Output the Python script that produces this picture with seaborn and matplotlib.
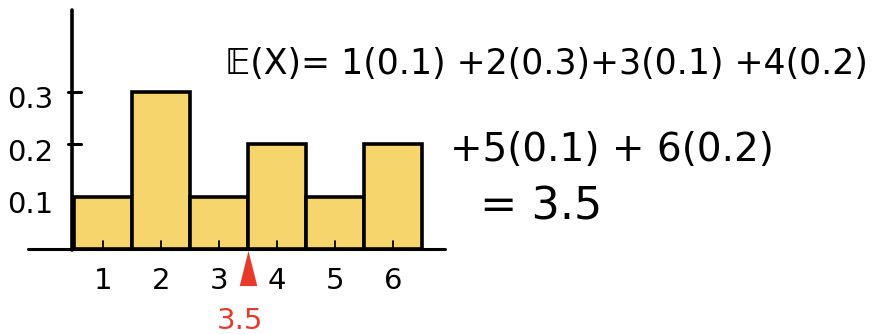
import matplotlib
matplotlib.use("Agg")
import matplotlib.pyplot as plt
import seaborn as sns
import pandas as pd

# data
outcomes = [1, 2, 3, 4, 5, 6]
probabilities = [0.1, 0.3, 0.1, 0.2, 0.1, 0.2]
y_tick_values = [0.1, 0.2, 0.3]
y_tick_labels = ["0.1", "0.2", "0.3"]
expected_value = 3.5
eq_line1 = "𝔼(X)= 1(0.1) +2(0.3)+3(0.1) +4(0.2)"
eq_line2 = "+5(0.1) + 6(0.2)"
eq_line3 = "= 3.5"

sns.set_theme(style="white")
plt.rcParams["font.family"] = ["DejaVu Sans"]

fig = plt.figure(figsize=(8.8, 3.34), dpi=100)
ax = fig.add_axes([0, 0, 1, 1])

df = pd.DataFrame({"x": outcomes, "p": probabilities})
sns.barplot(data=df, x="x", y="p", native_scale=True, width=1.0,
            color="#F6D66C", saturation=1, edgecolor="black", linewidth=2.6, ax=ax)

ax.set_xlim(-0.776, 14.4)
ax.set_ylim(-0.1625, 0.476)
ax.axis("off")

# hand-drawn axes
ax.plot([-0.29, 6.9], [0, 0], color="black", lw=2.2, solid_capstyle="round")
ax.plot([0.46, 0.46], [-0.002, 0.457], color="black", lw=2.6, solid_capstyle="round")

# y ticks and labels
for v, lab in zip(y_tick_values, y_tick_labels):
    if v > 0.15:
        ax.plot([0.40, 0.62], [v, v], color="black", lw=2.2, solid_capstyle="round")
    ax.text(-0.26, v - 0.016, lab, fontsize=21, ha="center", va="center", color="black")

# x ticks and labels
for x in outcomes:
    ax.plot([x, x], [0, 0.016], color="black", lw=1.3)
    ax.text(x, -0.062, str(x), fontsize=21, ha="center", va="center", color="black")

# expected value marker
tri = [(0, 1.0), (-0.5, -1.0), (0.5, -1.0)]
ax.scatter([expected_value], [-0.036], marker=tri, s=640, color="#E8392A", zorder=5, linewidths=0)
ax.text(expected_value - 0.13, -0.137, "3.5", fontsize=21, ha="center", va="center", color="#E8392A")

# equation
fig.text(225 / 880, 1 - 64 / 334, eq_line1, fontsize=25, ha="left", va="center", color="black")
fig.text(450 / 880, 1 - 150 / 334, eq_line2, fontsize=28, ha="left", va="center", color="black")
fig.text(480 / 880, 1 - 207 / 334, eq_line3, fontsize=32, ha="left", va="center", color="black")

fig.savefig("out.png", dpi=100)
